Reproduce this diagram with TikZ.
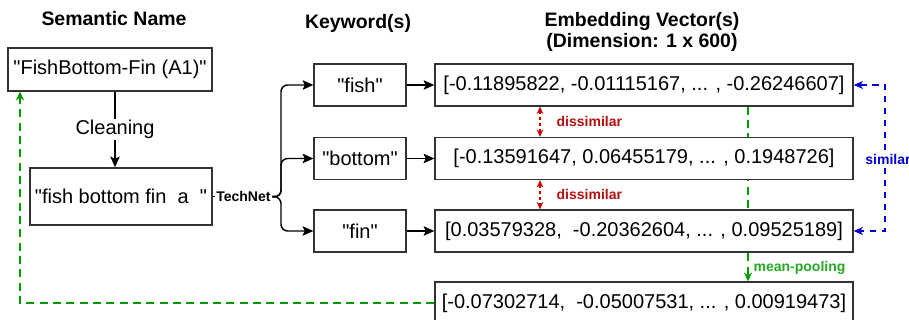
\documentclass[tikz,border=0pt]{standalone}
\usepackage{fontspec}
\setmainfont{Liberation Sans}[Ligatures=TeXOff]
\usepackage{tikz}
\usetikzlibrary{positioning,arrows.meta,calc,backgrounds}
\usepackage{xcolor}
\definecolor{poolgreen}{RGB}{0,153,0}
\definecolor{disred}{RGB}{204,0,0}
\definecolor{distext}{RGB}{178,16,16}
\definecolor{simblue}{RGB}{0,0,214}

\begin{document}
\begin{tikzpicture}[x=0.75pt,y=-0.75pt,>={Stealth[length=8pt,width=7pt,inset=1.5pt]},
  box/.style={draw=black!80,line width=1pt,fill=white,inner sep=2pt,font=\fontsize{15}{18}\selectfont},
  kwbox/.style={box,minimum width=69pt,minimum height=31.5pt},
  vecbox/.style={box,minimum width=313.5pt,minimum height=31.5pt},
  head/.style={font=\fontsize{14.6}{15.5}\selectfont\bfseries,align=center},
  tag/.style={font=\fontsize{10.5}{12}\selectfont\bfseries,inner sep=1pt},
  flow/.style={->,line width=1.1pt},
  dis/.style={<->,disred,line width=1pt,dash pattern=on 2.5pt off 2pt,>={Stealth[length=5.5pt,width=5pt]}},
  pool/.style={poolgreen,line width=1.1pt,dash pattern=on 6pt off 4pt,>={Stealth[length=6.5pt,width=6pt]}},
  sim/.style={<->,simblue,line width=1.1pt,dash pattern=on 5pt off 4pt,>={Stealth[length=7pt,width=6pt,inset=2pt]}}]
\useasboundingbox (0,0) rectangle (909,320);

\node[head] (hname) at (114,19) {Semantic Name};
\node[head] (hkey) at (358,23) {Keyword(s)};
\node[head] (hvec) at (642,32) {Embedding Vector(s)\\(Dimension: 1 x 600)};

\node[box,minimum width=153pt,minimum height=32.25pt] (name) at (110,69.5) {"FishBottom-Fin (A1)"};
\node[box,minimum width=136.5pt,minimum height=42.75pt] (clean) at (121,196.5) {"fish bottom fin\ \ a\ \ "};
\node[tag,right=1.5pt of clean] (tech) {TechNet};
\coordinate (fork) at (281,197);

\node[kwbox] (kfish) at (360,85) {"fish"};
\node[kwbox] (kbottom) at (360,158.5) {"bottom"};
\node[kwbox] (kfin) at (360,231) {"fin"};

\node[vecbox] (vfish) at (644,85) {[-0.11895822, -0.01115167, ... , -0.26246607]};
\node[vecbox] (vbottom) at (644,158.5) {[-0.13591647, 0.06455179, ... , 0.1948726]};
\node[vecbox] (vfin) at (644,231) {[0.03579328,\ \ -0.20362604, ... , 0.09525189]};
\node[vecbox] (vmean) at (644,303) {[-0.07302714,\ \ -0.05007531, ... , 0.00919473]};

\coordinate (cx) at (115,0);
\draw[flow] (name.south -| cx) -- (clean.north -| cx) node[midway,fill=white,inner sep=1pt,font=\fontsize{15}{18}\selectfont] (cleaning) {Cleaning};
\draw[line width=1.1pt] (clean) -- (tech);
\foreach \k in {fish,bottom,fin} {
  \draw[flow,rounded corners=5pt] (tech.east) -- (fork) |- (k\k.west);
  \draw[flow] (k\k) -- (v\k);
}

% dissimilar pairs
\coordinate (dx) at (540,0);
\draw[dis] (vfish.south -| dx) -- (vbottom.north -| dx) node[midway,right=11pt,tag,distext] (dis1) {dissimilar};
\draw[dis] (vbottom.south -| dx) -- (vfin.north -| dx) node[midway,right=11pt,tag,distext] (dis2) {dissimilar};

% pooling and the way back
\coordinate (gx) at (748,0);
\coordinate (rx) at (20,0);
\begin{scope}[on background layer]
\fill[white] (0,0) rectangle (909,320);
\draw[pool,->] (vfish.south -| gx) -- (vmean.north -| gx);
\end{scope}
\node[tag,poolgreen!85!white,anchor=west] (mpool) at (752,268) {mean-pooling};
\draw[pool,->] (vmean.west) -| (name.south -| rx);

\coordinate (sx) at (885,158);
\draw[sim] (vfish.east) -| (sx) |- (vfin.east);
\node[tag,simblue,fill=white] (simlbl) at (888,159) {similar};
\end{tikzpicture}
\end{document}
